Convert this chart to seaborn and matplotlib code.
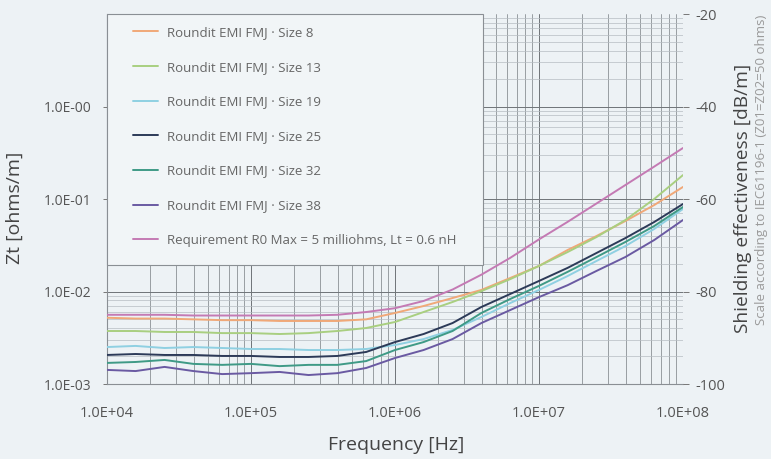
import numpy as np
import pandas as pd
import matplotlib
matplotlib.use("Agg")
import matplotlib.pyplot as plt
import matplotlib.ticker as mticker
from matplotlib.patches import Rectangle
import seaborn as sns

# ---- data -------------------------------------------------------------
freq = [1.0e4, 1.58e4, 2.51e4, 3.98e4, 6.31e4, 1.0e5, 1.58e5, 2.51e5, 3.98e5, 6.31e5,
        1.0e6, 1.58e6, 2.51e6, 3.98e6, 6.31e6, 1.0e7, 1.58e7, 2.51e7, 3.98e7, 6.31e7, 1.0e8]

size8 = [0.0052, 0.0051, 0.0051, 0.0050, 0.0049, 0.0049, 0.0048, 0.0048, 0.0048, 0.0050,
         0.00586, 0.00697, 0.0085, 0.0104, 0.0140, 0.0189, 0.0281, 0.0398, 0.0578, 0.086, 0.135]
size13 = [0.00374, 0.00374, 0.00365, 0.00365, 0.00355, 0.00355, 0.00347, 0.00355, 0.00374, 0.00403,
          0.00468, 0.0060, 0.0077, 0.0101, 0.0136, 0.0189, 0.0267, 0.0388, 0.0593, 0.100, 0.1815]
size19 = [0.00251, 0.00258, 0.00245, 0.00251, 0.00245, 0.00239, 0.00239, 0.00233, 0.00233, 0.00239,
          0.00264, 0.00306, 0.00384, 0.0053, 0.0075, 0.0104, 0.0147, 0.0214, 0.031, 0.0474, 0.078]
size25 = [0.00206, 0.00211, 0.00206, 0.00206, 0.00201, 0.00201, 0.00196, 0.00196, 0.00201, 0.00222,
          0.00284, 0.00347, 0.00456, 0.0068, 0.0094, 0.0130, 0.0180, 0.0261, 0.0378, 0.0564, 0.0883]
size32 = [0.00169, 0.00173, 0.00182, 0.00165, 0.00161, 0.00165, 0.00156, 0.00161, 0.00161, 0.00177,
          0.00233, 0.00284, 0.00374, 0.00586, 0.0083, 0.0115, 0.0163, 0.0236, 0.0343, 0.051, 0.082]
size38 = [0.00142, 0.00138, 0.00153, 0.00138, 0.00128, 0.00131, 0.00135, 0.00125, 0.00131, 0.00149,
          0.00191, 0.00233, 0.00306, 0.00456, 0.0063, 0.0087, 0.0117, 0.0167, 0.0236, 0.036, 0.0593]
requirement = [0.0056, 0.0056, 0.0056, 0.0055, 0.0055, 0.0055, 0.0055, 0.0055, 0.0056, 0.0060,
               0.0066, 0.0079, 0.0105, 0.0152, 0.0231, 0.0366, 0.0566, 0.0895, 0.1416, 0.224, 0.356]

series_names = ["Roundit EMI FMJ · Size 8", "Roundit EMI FMJ · Size 13",
                "Roundit EMI FMJ · Size 19", "Roundit EMI FMJ · Size 25",
                "Roundit EMI FMJ · Size 32", "Roundit EMI FMJ · Size 38",
                "Requirement R0 Max = 5 milliohms, Lt = 0.6 nH"]
series_values = [size8, size13, size19, size25, size32, size38, requirement]
colors = ["#f0a878", "#a9cf80", "#8fd0e2", "#2c3a58", "#3f9a86", "#6a5aa2", "#c47ab4"]

x_ticks = [1e4, 1e5, 1e6, 1e7, 1e8]
x_ticklabels = ["1.0E+04", "1.0E+05", "1.0E+06", "1.0E+07", "1.0E+08"]
y_ticks = [1e-3, 1e-2, 1e-1, 1e0]
y_ticklabels = ["1.0E-03", "1.0E-02", "1.0E-01", "1.0E-00"]
se_ticks = [-100, -80, -60, -40, -20]
se_ticklabels = ["-100", "-80", "-60", "-40", "-20"]

# ---- build frame ------------------------------------------------------
rows = []
for name, vals in zip(series_names, series_values):
    for f, v in zip(freq, vals):
        rows.append({"freq": f, "zt": v, "series": name})
df = pd.DataFrame(rows)

sns.set_style("white")
plt.rcParams["font.family"] = ["Open Sans", "DejaVu Sans"]

BG = "#edf2f5"
fig = plt.figure(figsize=(7.71, 4.59), dpi=100, facecolor=BG)
ax = fig.add_axes([107 / 771, 1 - 384 / 459, 576 / 771, 370 / 459])
ax.set_facecolor(BG)

sns.lineplot(data=df, x="freq", y="zt", hue="series", hue_order=series_names,
             palette=dict(zip(series_names, colors)), linewidth=1.4, ax=ax,
             legend=False, zorder=3)

ax.set_xscale("log")
ax.set_yscale("log")
ax.set_xlim(1e4, 1e8)
ax.set_ylim(1e-3, 1e1)

ax.xaxis.set_major_locator(mticker.FixedLocator(x_ticks))
ax.xaxis.set_major_formatter(mticker.FixedFormatter(x_ticklabels))
ax.yaxis.set_major_locator(mticker.FixedLocator(y_ticks))
ax.yaxis.set_major_formatter(mticker.FixedFormatter(y_ticklabels))
ax.xaxis.set_minor_locator(mticker.LogLocator(base=10, subs=np.arange(2, 10)))
ax.yaxis.set_minor_locator(mticker.LogLocator(base=10, subs=np.arange(2, 10)))
ax.xaxis.set_minor_formatter(mticker.NullFormatter())
ax.yaxis.set_minor_formatter(mticker.NullFormatter())

ax.grid(which="major", axis="both", color="#6f7478", linewidth=0.7)
ax.grid(which="minor", axis="x", color="#8a9095", linewidth=0.6)
ax.grid(which="minor", axis="y", color="#b5bcc2", linewidth=0.5)
ax.set_axisbelow(True)

ax.tick_params(axis="both", which="major", labelcolor="#555555",
               color="#777777", length=3, width=0.7)
ax.tick_params(axis="y", which="major", labelsize=10, pad=8)
ax.tick_params(axis="x", which="major", labelsize=10.5, pad=13)
ax.tick_params(axis="both", which="minor", length=0)
for s in ["top", "right"]:
    ax.spines[s].set_visible(False)
for s in ["left", "bottom"]:
    ax.spines[s].set_color("#8a8f94")
    ax.spines[s].set_linewidth(0.8)
ax.set_xlabel("")
ax.set_ylabel("")

ax2 = ax.twinx()
ax2.set_ylim(-100, -20)
ax2.set_yticks(se_ticks)
ax2.set_yticklabels(se_ticklabels)
ax2.tick_params(axis="y", labelsize=10.5, labelcolor="#555555", color="#777777",
                length=4, width=0.7, pad=5)
for s in ["top", "right", "left", "bottom"]:
    ax2.spines[s].set_visible(False)

# legend box covering the grid
box = Rectangle((0, 0.3216), 0.6528, 0.6784, transform=ax.transAxes,
                facecolor="#f1f5f7", edgecolor="#8a8f94", linewidth=0.8,
                zorder=4, clip_on=False)
ax.add_patch(box)

handles = ax.get_lines()[:len(series_names)]
leg = ax.legend(handles, series_names, loc="upper left",
                bbox_to_anchor=(0.0451, 0.9676),
                fontsize=9.5, labelspacing=1.64, borderpad=0,
                handlelength=1.9, handletextpad=0.68, borderaxespad=0,
                frameon=False)
for t in leg.get_texts():
    t.set_color("#666666")
leg.set_zorder(6)

fig.text(15 / 771, 1 - 208 / 459, "Zt [ohms/m]", rotation=90, ha="center",
         va="center", fontsize=14, color="#444444")
fig.text(396 / 771, 1 - 445 / 459, "Frequency [Hz]", ha="center", va="center",
         fontsize=14, color="#444444")
fig.text(743 / 771, 1 - 198 / 459, "Shielding effectiveness [dB/m]", rotation=90,
         ha="center", va="center", fontsize=13.8, color="#444444")
fig.text(762 / 771, 1 - 170 / 459, "Scale according to IEC61196-1 (Z01=Z02=50 ohms)",
         rotation=90, ha="center", va="center", fontsize=9.5, color="#9a9a9a")

fig.savefig("out.png", dpi=100, facecolor=BG)
